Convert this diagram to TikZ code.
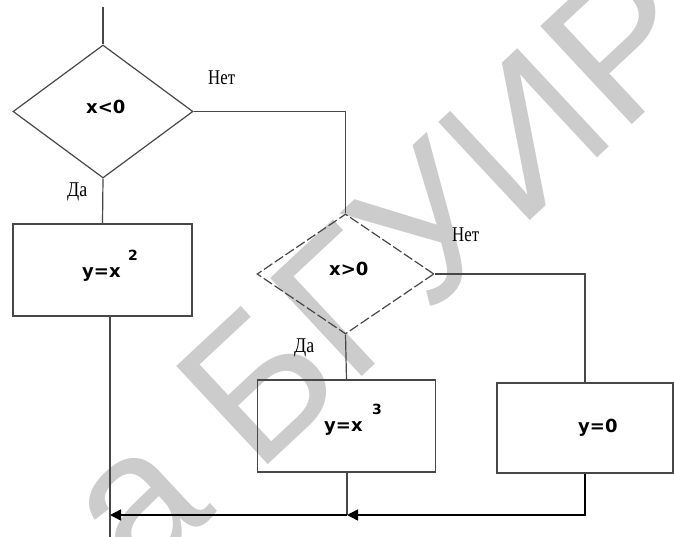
\documentclass[tikz,border=0pt]{standalone}
\usepackage{fontspec}
\setmainfont{Liberation Serif}
\newfontfamily\lblsans{DejaVu Sans}
\newfontfamily\wmfont{Liberation Sans}
\usetikzlibrary{shapes.geometric,arrows.meta}
\begin{document}
\begin{tikzpicture}[x=1pt,y=-1pt,
  ln/.style={draw=black!72,line width=1.2pt},
  arr/.style={draw=black,line width=1.4pt,-{Triangle[length=11pt,width=11pt]}},
  dec/.style={diamond,draw=black!72,line width=1.2pt,inner sep=0pt},
  blk/.style={rectangle,draw=black!72,line width=1.4pt,inner sep=0pt},
  mtxt/.style={anchor=base west,inner sep=0pt,font=\lblsans\bfseries\fontsize{18}{18}\selectfont},
  stxt/.style={anchor=base west,inner sep=0pt,font=\lblsans\bfseries\fontsize{14}{14}\selectfont},
  yn/.style={anchor=base west,inner sep=0pt,font=\fontsize{21}{21}\selectfont}
]
\useasboundingbox (0,0) rectangle (674,537);
\fill[white] (0,0) rectangle (674,537);
% watermark
\begin{scope}
  \clip (0,0) rectangle (674,537);
  \node[rotate=43,text=gray!40,inner sep=0pt,font=\wmfont\fontsize{195}{195}\selectfont] (wm) at (382,268) {а БГУИР};
\end{scope}
% shapes
\node[dec,minimum width=180pt,minimum height=133pt] (d1) at (103,111.5) {};
\node[dec,dash pattern=on 10pt off 3pt,minimum width=177pt,minimum height=120pt] (d2) at (345.5,274) {};
\node[blk,minimum width=179pt,minimum height=92pt] (b1) at (102.5,270) {};
\node[blk,minimum width=178pt,minimum height=92pt] (b2) at (346.5,426) {};
\node[blk,minimum width=176pt,minimum height=90pt] (b3) at (585,428) {};
% texts
\node[mtxt] (t1) at (86,114) {x<0};
\node[mtxt] (t2) at (329,275) {x>0};
\node[mtxt] (t3) at (82,277) {y=x};
\node[stxt] (t3s) at (128,260) {2};
\node[mtxt] (t4) at (324,431) {y=x};
\node[stxt] (t4s) at (372,414) {3};
\node[mtxt] (t5) at (578,432) {y=0};
\node[yn] (n1) at (208,85) {\scalebox{0.8}[1]{Нет}};
\node[yn] (n2) at (452,242) {\scalebox{0.8}[1]{Нет}};
\node[yn] (a1) at (67,197) {\scalebox{0.85}[1]{Да}};
\node[yn] (a2) at (294,352) {\scalebox{0.85}[1]{Да}};
% connectors
\coordinate (start) at (103,7);
\coordinate (m1) at (110,537);
\coordinate (j1) at (110,515);
\coordinate (j2) at (347,515);
\draw[ln] (start) -- (d1.north);
\draw[ln] (d1.south) -- (b1.north);
\draw[ln] (d1.east) -| (d2.north);
\draw[ln] (d2.south) -- (b2.north);
\draw[ln] (d2.east) -| (b3.north);
\draw[ln] (b1.south -| m1) -- (m1);
\draw[ln] (b2.south -| j2) -- (j2);
\draw[arr] (b3.south) |- (j2);
\draw[arr] (j2) -- (j1);
\end{tikzpicture}
\end{document}
